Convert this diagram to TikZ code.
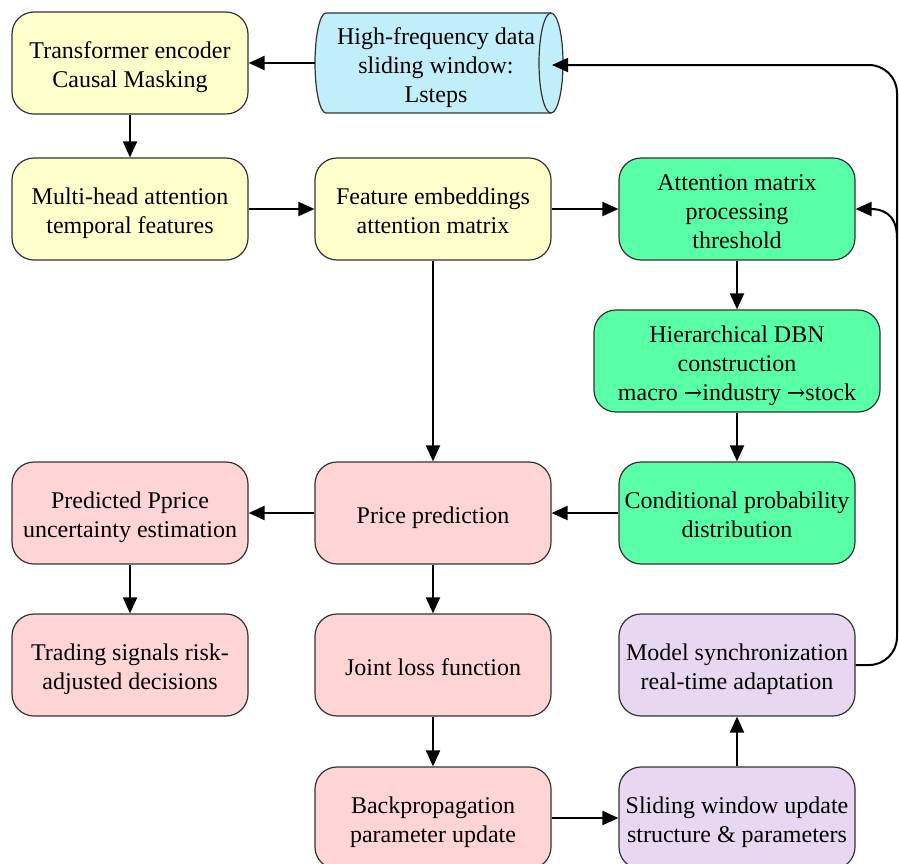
\documentclass[tikz,border=0pt]{standalone}
\usepackage{fontspec}
\setmainfont{Liberation Serif}
\newfontfamily\tms{Liberation Serif}
\newfontfamily\arrfont{DejaVu Serif}
\usetikzlibrary{shapes.geometric,arrows.meta,calc}
\definecolor{yel}{HTML}{FFFFCC}
\definecolor{blu}{HTML}{C0EEFB}
\definecolor{grn}{HTML}{58FFA6}
\definecolor{pnk}{HTML}{FFD4D4}
\definecolor{lav}{HTML}{E7D7F0}
\newcommand{\rar}{{\arrfont\fontsize{11}{14.5}\selectfont →}}
\newcommand{\bt}[1]{\raisebox{-5.3pt}[0pt][0pt]{\begin{tabular}{@{}c@{}}#1\end{tabular}}}
\begin{document}
\begin{tikzpicture}[x=0.5pt,y=-0.5pt,
  box/.style={draw=black!80,line width=0.6pt,rounded corners=11pt,minimum width=118pt,minimum height=51pt,align=center,font=\tms\fontsize{12}{14.5}\selectfont,inner sep=2pt},
  cyltext/.style={align=center,font=\tms\fontsize{12}{14.5}\selectfont,inner sep=2pt},
  cylline/.style={draw=black!80,line width=0.6pt},
  arr/.style={line width=1pt,-{Triangle[length=8pt,width=7pt]}}]
\useasboundingbox (0,0) rectangle (899,863);
\clip (0,0) rectangle (899,863);
% cylinder
\filldraw[cylline,fill=blu] (326,13) -- (551,13) arc[start angle=-90,end angle=90,x radius=12,y radius=50] -- (326,113) arc[start angle=90,end angle=270,x radius=11,y radius=50] -- cycle;
\draw[cylline] (551,13) arc[start angle=-90,end angle=-270,x radius=12,y radius=50];
\node[cyltext] (cyl) at (436,63) {\bt{High-frequency data\\sliding window:\\Lsteps}};
\coordinate (cylW) at (315,63);
\coordinate (cin) at (552,65);
\node[box,fill=yel] (trans) at (130,63) {\bt{Transformer encoder\\Causal Masking}};
\node[box,fill=yel] (multi) at (130,209) {\bt{Multi-head attention\\temporal features}};
\node[box,fill=yel] (feat) at (433,209) {\bt{Feature embeddings\\attention matrix}};
\node[box,fill=grn] (att) at (737,209) {\bt{Attention matrix\\processing\\threshold}};
\node[box,fill=grn,minimum width=143pt] (dbn) at (737,361) {\bt{Hierarchical DBN\\construction\\macro \rar industry \rar stock}};
\node[box,fill=grn] (cond) at (737,513) {\bt{Conditional probability\\distribution}};
\node[box,fill=pnk] (price) at (433,513) {\bt{Price prediction}};
\node[box,fill=pnk] (pred) at (130,513) {\bt{Predicted Pprice\\uncertainty estimation}};
\node[box,fill=pnk] (trade) at (130,665) {\bt{Trading signals risk-\\adjusted decisions}};
\node[box,fill=pnk] (joint) at (433,665) {\bt{Joint loss function}};
\node[box,fill=lav] (model) at (737,665) {\bt{Model synchronization\\real-time adaptation}};
\node[box,fill=pnk] (back) at (433,818) {\bt{Backpropagation\\parameter update}};
\node[box,fill=lav] (slide) at (737,818) {\bt{Sliding window update\\structure \& parameters}};
\coordinate (jn) at (897,238);
\draw[arr] (cylW|-trans.east) -- (trans.east);
\draw[arr] (trans) -- (multi);
\draw[arr] (multi) -- (feat);
\draw[arr] (feat) -- (att);
\draw[arr] (att) -- (dbn);
\draw[arr] (dbn) -- (cond);
\draw[arr] (cond) -- (price);
\draw[arr] (feat) -- (price);
\draw[arr] (price) -- (pred);
\draw[arr] (pred) -- (trade);
\draw[arr] (price) -- (joint);
\draw[arr] (joint) -- (back);
\draw[arr] (back) -- (slide);
\draw[arr] (slide) -- (model);
\draw[arr,rounded corners=14pt] (model.east) -- (897,665) -- (897,65) -- (cin);
\draw[arr] (jn) .. controls (897,212) and (880,209) .. (att.east);
\end{tikzpicture}
\end{document}
